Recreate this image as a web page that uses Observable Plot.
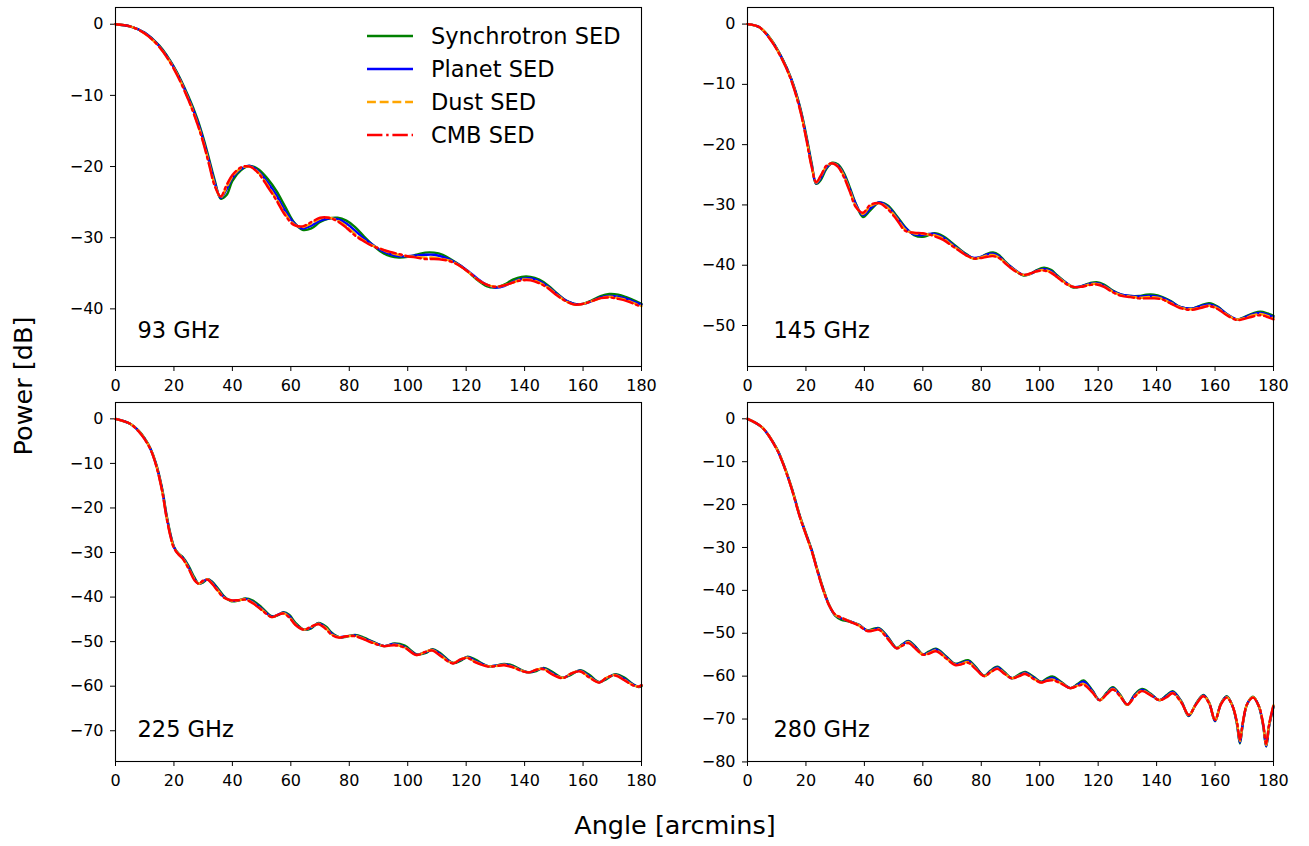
<!DOCTYPE html>
<html>
<head>
<meta charset="utf-8">
<script src="https://cdn.jsdelivr.net/npm/d3@7"></script>
<script src="https://cdn.jsdelivr.net/npm/@observablehq/plot@0.6"></script>
<style>
  html, body { margin: 0; padding: 0; background: #fff; }
  #fig { position: relative; width: 1309px; height: 846px; overflow: hidden; background: #fff;
         font-family: "DejaVu Sans", sans-serif; color: #000; }
  .panel { position: absolute; }
  .ylab { position: absolute; left: 24px; top: 386px; font-size: 25.5px; line-height: 1; white-space: nowrap;
          transform: translate(-50%, -50%) rotate(-90deg); }
  .xlab { position: absolute; left: 675px; top: 813px; font-size: 25.5px; line-height: 1; white-space: nowrap;
          transform: translateX(-50%); }
  .legrow { position: absolute; left: 367px; height: 26px; display: flex; align-items: center; font-size: 22.5px; line-height: 26px; white-space: nowrap; }
  .legrow svg { margin-right: 18px; }
</style>
</head>
<body>
<div id="fig"></div>
<script>
// ---------------- data ----------------
const seriesNames = ["Synchrotron SED", "Planet SED", "Dust SED", "CMB SED"];
const freqLabels = ["93 GHz", "145 GHz", "225 GHz", "280 GHz"];
const xTicks = [0, 20, 40, 60, 80, 100, 120, 140, 160, 180];
const yTicks93 = [0, -10, -20, -30, -40];
const yTicks145 = [0, -10, -20, -30, -40, -50];
const yTicks225 = [0, -10, -20, -30, -40, -50, -60, -70];
const yTicks280 = [0, -10, -20, -30, -40, -50, -60, -70, -80];

// 93 GHz
const angle93 = [0,5,10,15,20,25,28,30,32,34,36,38,40,43,46,49,52,55,58,61,64,67,70,73,76,79,82,85,88,91,94,97,100,103,106,109,112,115,118,121,124,127,130,133,136,139,142,145,148,151,154,157,160,163,166,169,172,175,178,180];
const sync93 = [0,-0.3,-1.2,-3.0,-6.0,-10.2,-13.3,-15.9,-18.9,-22.0,-24.5,-24.0,-22.0,-20.5,-19.9,-20.4,-21.7,-23.4,-25.6,-27.8,-28.9,-28.7,-27.8,-27.3,-27.2,-27.6,-28.5,-29.8,-31.0,-32.0,-32.6,-32.8,-32.7,-32.4,-32.1,-32.1,-32.4,-33.1,-33.9,-34.9,-36.0,-36.8,-37.0,-36.6,-35.9,-35.5,-35.5,-35.9,-36.7,-37.8,-38.8,-39.3,-39.3,-38.8,-38.2,-37.9,-38.0,-38.4,-38.9,-39.3];
const planet93 = [0,-0.3,-1.2,-3.1,-6.1,-10.4,-13.6,-16.2,-19.2,-22.3,-24.4,-23.2,-21.6,-20.3,-19.9,-20.7,-22.2,-24.0,-26.2,-27.9,-28.7,-28.3,-27.6,-27.3,-27.4,-28.0,-29.0,-30.1,-31.0,-31.8,-32.3,-32.6,-32.6,-32.5,-32.4,-32.4,-32.7,-33.2,-33.9,-34.8,-35.8,-36.6,-37.0,-36.8,-36.2,-35.8,-35.7,-36.1,-36.9,-37.9,-38.8,-39.3,-39.3,-38.9,-38.4,-38.2,-38.3,-38.6,-39.1,-39.4];
const dust93 = [0,-0.3,-1.3,-3.2,-6.2,-10.6,-13.9,-16.5,-19.5,-22.6,-24.3,-22.9,-21.4,-20.2,-20.0,-20.9,-22.6,-24.5,-26.6,-28.1,-28.5,-28.0,-27.3,-27.2,-27.6,-28.4,-29.5,-30.4,-31.1,-31.6,-32.1,-32.4,-32.6,-32.7,-32.8,-32.8,-33.0,-33.3,-34.0,-34.9,-35.9,-36.6,-36.9,-36.7,-36.3,-35.9,-35.9,-36.3,-37.0,-38.0,-38.9,-39.4,-39.3,-38.9,-38.5,-38.3,-38.5,-38.8,-39.3,-39.6];
const cmb93 = [0,-0.3,-1.3,-3.2,-6.3,-10.7,-14.0,-16.6,-19.7,-22.8,-24.2,-22.6,-21.2,-20.1,-20.0,-21.0,-22.8,-24.7,-26.8,-28.2,-28.4,-27.8,-27.2,-27.2,-27.7,-28.6,-29.7,-30.5,-31.2,-31.6,-32.0,-32.3,-32.6,-32.8,-33.0,-33.0,-33.1,-33.4,-34.0,-34.9,-35.9,-36.6,-36.9,-36.7,-36.3,-36.0,-36.0,-36.4,-37.1,-38.1,-38.9,-39.4,-39.3,-38.9,-38.5,-38.4,-38.6,-38.9,-39.4,-39.7];

// 145 GHz
const angle145 = [0,4,8,12,15,18,20,22,23.5,25,27,29,31,33,35,37,39.5,42,45,48,51,54,57,60,62,64,67,70,73,75,77.5,80,82,84,86,88,91,94.5,97,99,101.5,104,106,109,111.5,114,117,119.5,122,125,128,131,134,136.5,139,142,145,148,152,155,158,161,164,167.5,170,173,175.5,178,180];
const sync145 = [0,-0.5,-2.5,-5.8,-9.1,-13.8,-18.2,-23.2,-26.5,-25.9,-24.0,-23.0,-23.3,-24.7,-27.1,-29.7,-32.0,-30.9,-29.6,-30.1,-31.8,-33.7,-35.0,-35.3,-35.0,-34.7,-35.2,-36.3,-37.5,-38.2,-38.9,-38.6,-38.1,-37.9,-38.3,-39.3,-40.6,-41.7,-41.4,-40.8,-40.4,-40.8,-41.7,-42.9,-43.7,-43.5,-43.0,-42.8,-43.2,-44.2,-44.9,-45.1,-45.1,-44.9,-44.9,-45.3,-46.0,-46.9,-47.2,-46.7,-46.3,-46.9,-48.1,-49.0,-48.6,-48.0,-47.7,-48.0,-48.4];
const planet145 = [0,-0.5,-2.6,-5.9,-9.2,-14.0,-18.5,-23.5,-26.4,-25.6,-23.8,-23.1,-23.5,-25.0,-27.4,-29.8,-31.7,-30.6,-29.6,-30.3,-32.0,-33.8,-34.9,-35.0,-34.8,-34.8,-35.4,-36.5,-37.6,-38.3,-38.8,-38.6,-38.2,-38.1,-38.5,-39.4,-40.6,-41.6,-41.4,-40.9,-40.6,-41.0,-41.8,-42.9,-43.6,-43.5,-43.1,-43.0,-43.4,-44.3,-44.9,-45.1,-45.2,-45.1,-45.1,-45.4,-46.1,-46.9,-47.2,-46.8,-46.5,-47.0,-48.1,-49.0,-48.7,-48.1,-47.9,-48.2,-48.6];
const dust145 = [0,-0.5,-2.6,-6.0,-9.3,-14.2,-18.7,-23.7,-26.3,-25.3,-23.6,-23.1,-23.6,-25.2,-27.6,-30.1,-31.5,-30.2,-29.7,-30.5,-32.2,-34.1,-34.7,-34.8,-34.9,-35.0,-35.6,-36.7,-37.7,-38.4,-38.9,-38.7,-38.4,-38.3,-38.7,-39.5,-40.7,-41.6,-41.4,-41.0,-40.8,-41.2,-41.9,-43.0,-43.6,-43.6,-43.2,-43.1,-43.5,-44.4,-45.0,-45.2,-45.4,-45.3,-45.3,-45.6,-46.3,-47.0,-47.3,-47.0,-46.7,-47.2,-48.2,-49.0,-48.8,-48.3,-48.1,-48.4,-48.8];
const cmb145 = [0,-0.5,-2.7,-6.0,-9.4,-14.3,-18.8,-23.8,-26.2,-25.2,-23.5,-23.1,-23.7,-25.4,-27.8,-30.3,-31.3,-30.0,-29.7,-30.7,-32.4,-34.3,-34.6,-34.7,-34.9,-35.2,-35.8,-36.8,-37.8,-38.4,-38.9,-38.8,-38.6,-38.5,-38.8,-39.6,-40.8,-41.6,-41.3,-41.0,-40.9,-41.3,-42.0,-43.1,-43.6,-43.6,-43.3,-43.2,-43.6,-44.5,-45.1,-45.3,-45.5,-45.5,-45.5,-45.7,-46.4,-47.1,-47.4,-47.1,-46.8,-47.3,-48.3,-49.1,-48.9,-48.5,-48.3,-48.6,-49.0];

// 225 GHz
const angle225 = [0,5,8,10,12,14,16,17.5,19,20,21.5,23,25,27,28.5,30,31.5,33,35,37,39.5,42,44.5,47,50,53.5,55.5,57.5,59.5,61.5,64.5,67,69.5,72,74,76.5,79,82,85,88,92,95.5,99,103,106,108.5,111,115.5,118,120.5,123,127.5,130,133,136,139,141.5,144,146.5,149,153,156,159,162,165.5,168,171,174,177,179,180];
const sync225 = [0,-1.1,-2.7,-4.4,-6.7,-10.3,-15.8,-21.7,-26.4,-28.7,-30.2,-31.0,-33.0,-35.6,-37.0,-36.7,-36.0,-36.5,-38.0,-39.7,-40.9,-40.8,-40.3,-40.8,-42.3,-44.3,-44.1,-43.4,-44.0,-45.7,-47.3,-47.0,-45.8,-46.6,-48.0,-49.0,-48.9,-48.5,-49.1,-50.0,-51.0,-50.4,-50.9,-52.8,-52.6,-51.7,-52.5,-54.8,-54.3,-53.4,-54.0,-55.5,-55.4,-55.0,-55.4,-56.4,-56.9,-56.6,-55.9,-56.6,-58.1,-57.4,-56.4,-57.4,-59.1,-58.4,-57.3,-58.0,-59.5,-60.2,-60.0];
const planet225 = [0,-1.1,-2.8,-4.5,-6.8,-10.5,-16.1,-22.0,-26.6,-28.8,-30.3,-31.2,-33.3,-35.9,-37.0,-36.5,-36.0,-36.7,-38.3,-39.9,-40.8,-40.7,-40.4,-41.1,-42.6,-44.4,-44.0,-43.5,-44.3,-46.0,-47.3,-46.8,-45.9,-46.9,-48.2,-49.0,-48.8,-48.6,-49.3,-50.1,-51.0,-50.5,-51.2,-52.9,-52.4,-51.8,-52.8,-54.8,-54.1,-53.5,-54.3,-55.5,-55.4,-55.1,-55.6,-56.5,-56.9,-56.4,-56.0,-56.9,-58.1,-57.2,-56.5,-57.7,-59.1,-58.2,-57.4,-58.3,-59.6,-60.1,-59.8];
const dust225 = [0,-1.1,-2.8,-4.5,-6.8,-10.6,-16.3,-22.2,-26.8,-28.9,-30.3,-31.3,-33.5,-36.0,-37.0,-36.4,-36.0,-36.9,-38.5,-40.0,-40.8,-40.7,-40.5,-41.3,-42.8,-44.5,-44.0,-43.6,-44.5,-46.1,-47.3,-46.7,-46.0,-47.0,-48.4,-49.0,-48.8,-48.7,-49.4,-50.2,-51.0,-50.7,-51.3,-53.0,-52.3,-51.9,-53.0,-54.8,-54.0,-53.6,-54.5,-55.5,-55.5,-55.2,-55.7,-56.5,-56.9,-56.3,-56.1,-57.1,-58.1,-57.1,-56.6,-57.9,-59.1,-58.1,-57.5,-58.5,-59.7,-60.1,-59.8];
const cmb225 = [0,-1.1,-2.9,-4.6,-6.9,-10.7,-16.4,-22.3,-26.9,-29.0,-30.4,-31.4,-33.6,-36.2,-37.0,-36.3,-36.1,-37.0,-38.6,-40.1,-40.7,-40.7,-40.6,-41.4,-42.9,-44.5,-44.0,-43.7,-44.6,-46.2,-47.3,-46.6,-46.1,-47.2,-48.5,-49.1,-48.8,-48.8,-49.5,-50.3,-51.0,-50.8,-51.4,-53.0,-52.3,-52.0,-53.1,-54.9,-54.0,-53.7,-54.6,-55.6,-55.5,-55.3,-55.8,-56.6,-56.9,-56.3,-56.2,-57.2,-58.2,-57.1,-56.7,-58.0,-59.2,-58.1,-57.6,-58.6,-59.8,-60.1,-59.8];

// 280 GHz
const angle280 = [0,5,10,12,15,18,20,22,24,26,28,30,32,35,38,41,43,45,48,51,53,55,57.5,60,62,64.5,68,71,73,75.5,78,81,83,85.5,88,90.5,93,95,98,100.5,102.5,104.5,107.5,110.5,113,115,118,120.5,123,125,127.5,130,132.5,135,138,141,143.5,145.5,148.5,151,153.5,156,158,160,162,164,166,167.5,168.5,169.5,171,173,175,176.5,177.5,178.5,180];
const sync280 = [0,-2.0,-6.9,-10.0,-15.8,-22.8,-26.7,-30.6,-35.4,-39.8,-43.5,-45.9,-46.8,-47.3,-48.0,-49.3,-49.0,-48.8,-50.8,-53.4,-52.6,-51.8,-53.1,-54.9,-54.3,-53.6,-55.4,-57.1,-56.8,-56.3,-57.8,-59.9,-58.8,-57.8,-59.1,-60.5,-59.6,-59.0,-60.2,-61.3,-60.5,-60.1,-61.4,-62.8,-61.8,-61.0,-63.3,-65.6,-63.8,-62.6,-64.3,-66.7,-64.3,-63.0,-64.1,-65.6,-64.4,-63.5,-65.9,-69.3,-66.4,-64.4,-66.2,-70.5,-66.4,-64.7,-67.0,-71.2,-75.7,-71.1,-66.5,-64.8,-67.1,-71.7,-76.4,-71.6,-67.1];
const planet280 = [0,-2.0,-7.0,-10.1,-16.0,-23.0,-26.9,-30.8,-35.6,-40.0,-43.6,-45.8,-46.5,-47.2,-48.0,-49.4,-49.2,-48.9,-51.0,-53.5,-52.7,-51.9,-53.3,-55.0,-54.5,-53.8,-55.6,-57.2,-57.0,-56.5,-58.0,-60.0,-59.0,-58.0,-59.3,-60.5,-59.8,-59.2,-60.4,-61.4,-60.8,-60.4,-61.6,-62.8,-62.0,-61.3,-63.5,-65.6,-64.0,-62.8,-64.5,-66.7,-64.5,-63.2,-64.3,-65.6,-64.6,-63.7,-66.0,-69.2,-66.5,-64.5,-66.3,-70.4,-66.5,-64.8,-67.0,-71.0,-75.5,-71.0,-66.5,-64.9,-67.0,-71.5,-76.3,-71.5,-67.0];
const dust280 = [0,-2.0,-7.0,-10.1,-16.0,-23.0,-27.0,-30.9,-35.6,-40.0,-43.6,-45.7,-46.4,-47.2,-48.1,-49.4,-49.3,-49.1,-51.2,-53.5,-52.8,-52.1,-53.5,-55.0,-54.7,-54.0,-55.8,-57.3,-57.2,-56.7,-58.2,-60.0,-59.1,-58.2,-59.4,-60.5,-59.9,-59.4,-60.6,-61.5,-61.0,-60.8,-61.7,-62.8,-62.2,-61.8,-63.7,-65.6,-64.1,-63.0,-64.6,-66.7,-64.7,-63.4,-64.4,-65.6,-64.8,-63.9,-66.1,-69.1,-66.5,-64.6,-66.3,-70.3,-66.5,-64.9,-67.0,-70.9,-75.1,-70.9,-66.5,-64.9,-67.0,-71.4,-76.0,-71.3,-66.8];
const cmb280 = [0,-2.0,-7.1,-10.2,-16.1,-23.1,-27.0,-30.9,-35.7,-40.1,-43.6,-45.6,-46.3,-47.3,-48.2,-49.5,-49.4,-49.2,-51.3,-53.5,-52.9,-52.3,-53.6,-55.0,-54.8,-54.2,-55.9,-57.4,-57.3,-56.9,-58.3,-60.0,-59.2,-58.3,-59.5,-60.5,-60.0,-59.5,-60.7,-61.5,-61.1,-61.0,-61.8,-62.8,-62.3,-62.0,-63.8,-65.6,-64.2,-63.1,-64.7,-66.6,-64.8,-63.5,-64.5,-65.6,-64.9,-64.0,-66.2,-69.0,-66.6,-64.7,-66.4,-70.2,-66.6,-65.0,-67.0,-70.8,-74.8,-70.8,-66.5,-65.0,-67.0,-71.3,-75.8,-71.2,-66.7];

// ---------------- styles / layout ----------------
const seriesStyle = [
  {color: "#008000", dash: null},
  {color: "#0000ff", dash: null},
  {color: "#ffa500", dash: "8.9,3.8"},
  {color: "#ff0000", dash: "15.4,3.8,2.4,3.8"}
];

const panels = [
  {label: freqLabels[0], angle: angle93, series: [sync93, planet93, dust93, cmb93], yDomain: [-48.1, 2.35], yTicks: yTicks93, left: 55, top: 0, mt: 7, mb: 29, labDx: 22, labDy: -29},
  {label: freqLabels[1], angle: angle145, series: [sync145, planet145, dust145, cmb145], yDomain: [-56.8, 2.75], yTicks: yTicks145, left: 687, top: 0, mt: 7, mb: 29, labDx: 26, labDy: -29},
  {label: freqLabels[2], angle: angle225, series: [sync225, planet225, dust225, cmb225], yDomain: [-76.9, 3.67], yTicks: yTicks225, left: 55, top: 395, mt: 7, mb: 29, labDx: 22, labDy: -25},
  {label: freqLabels[3], angle: angle280, series: [sync280, planet280, dust280, cmb280], yDomain: [-79.9, 3.8], yTicks: yTicks280, left: 687, top: 395, mt: 7, mb: 29, labDx: 26, labDy: -25}
];

const fig = document.getElementById("fig");
const fmt = d3.format("d");

for (const p of panels) {
  const W = 620, H = 395, ml = 60, mr = 34;
  const lineMarks = seriesNames.map((name, si) => {
    const rows = p.angle.map((a, i) => ({angle: a, power: p.series[si][i], name}));
    return Plot.line(rows, {
      x: "angle", y: "power",
      stroke: seriesStyle[si].color,
      strokeWidth: 2.4,
      strokeDasharray: seriesStyle[si].dash,
      curve: "catmull-rom"
    });
  });
  const chart = Plot.plot({
    width: W, height: H,
    marginLeft: ml, marginRight: mr, marginTop: p.mt, marginBottom: p.mb,
    style: {fontFamily: "DejaVu Sans, sans-serif", fontSize: "16px", color: "#000", background: "transparent", overflow: "visible"},
    x: {domain: [0, 180], ticks: xTicks, tickSize: 5, tickPadding: 8, label: null, tickFormat: fmt},
    y: {domain: p.yDomain, ticks: p.yTicks, tickSize: 5, tickPadding: 7, label: null, tickFormat: fmt},
    marks: [
      ...lineMarks,
      Plot.frame({stroke: "#000", strokeWidth: 1.1}),
      Plot.text([p.label], {text: d => d, frameAnchor: "bottom-left", textAnchor: "start", lineAnchor: "bottom",
                            dx: p.labDx, dy: p.labDy, fontSize: 22.5, fill: "#000"})
    ]
  });
  const wrap = document.createElement("div");
  wrap.className = "panel";
  wrap.style.left = p.left + "px";
  wrap.style.top = p.top + "px";
  wrap.appendChild(chart);
  fig.appendChild(wrap);
}

// axis titles
const yl = document.createElement("div");
yl.className = "ylab"; yl.textContent = "Power [dB]";
fig.appendChild(yl);
const xl = document.createElement("div");
xl.className = "xlab"; xl.textContent = "Angle [arcmins]";
fig.appendChild(xl);

// legend (inside the 93 GHz panel, top right)
const legendCenters = [36, 69, 102, 135];
seriesNames.forEach((name, si) => {
  const row = document.createElement("div");
  row.className = "legrow";
  row.style.top = (legendCenters[si] - 13) + "px";
  const s = d3.create("svg").attr("width", 46).attr("height", 26);
  s.append("line").attr("x1", 0).attr("x2", 46).attr("y1", 13).attr("y2", 13)
    .attr("stroke", seriesStyle[si].color).attr("stroke-width", 2.4)
    .attr("stroke-dasharray", seriesStyle[si].dash);
  row.appendChild(s.node());
  const t = document.createElement("span");
  t.textContent = name;
  row.appendChild(t);
  fig.appendChild(row);
});
</script>
</body>
</html>
